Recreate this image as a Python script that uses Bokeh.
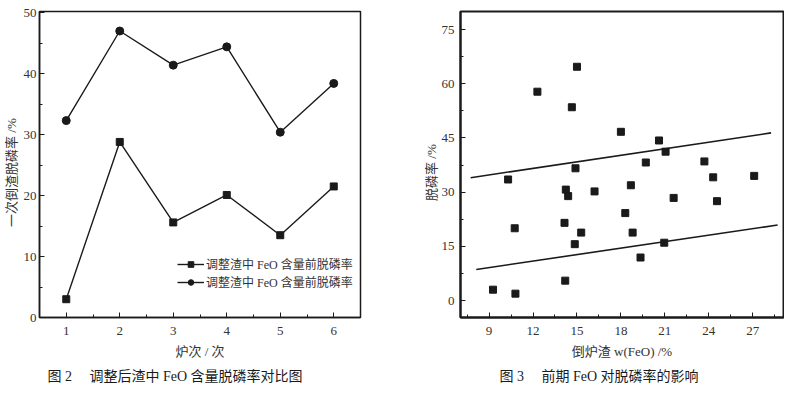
from bokeh.plotting import figure
from bokeh.models import (Range1d, FixedTicker, Legend, LegendItem, Title)
from bokeh.layouts import row
from bokeh.embed import file_html
from bokeh.resources import INLINE

# ---------------- data: Fig. 2 ----------------
heats = [1, 2, 3, 4, 5, 6]
before_adjust = [3.0, 28.8, 15.6, 20.1, 13.5, 21.5]   # squares
after_adjust = [32.3, 47.0, 41.4, 44.4, 30.4, 38.4]   # circles
legend_label = "调整渣中 FeO 含量前脱磷率"

# ---------------- data: Fig. 3 ----------------
feo = [10.3, 12.3, 15.0, 14.65, 18.0, 20.6, 21.05, 14.9, 19.7, 23.7, 24.3, 27.1,
       14.24, 14.4, 16.2, 18.68, 21.6, 24.56, 10.75, 14.15, 18.3, 15.29, 18.8,
       14.85, 20.96, 19.34, 14.2, 9.27, 10.8]
dephos = [33.5, 57.8, 64.7, 53.5, 46.7, 44.3, 41.2, 36.6, 38.2, 38.5, 34.1, 34.5,
          30.7, 28.9, 30.2, 31.9, 28.4, 27.5, 20.0, 21.5, 24.2, 18.8, 18.8,
          15.6, 16.0, 11.9, 5.5, 3.0, 1.9]
upper_line_x = [7.74, 28.25]
upper_line_y = [34.0, 46.4]
lower_line_x = [8.13, 28.7]
lower_line_y = [8.6, 20.9]

TXT = "#333333"
INK = "#1a1a1a"
FONT = "Liberation Serif, Noto Sans CJK SC"
SP = "\u00a0"
EM = "\u2003"


def style_axis(ax, major, minor):
    ax.ticker = FixedTicker(ticks=major, minor_ticks=minor)
    ax.major_tick_in = 5
    ax.major_tick_out = 0
    ax.minor_tick_in = 3
    ax.minor_tick_out = 0
    ax.axis_line_color = INK
    ax.major_tick_line_color = INK
    ax.minor_tick_line_color = INK
    ax.major_label_text_font = FONT
    ax.major_label_text_font_size = "13px"
    ax.major_label_text_color = TXT
    ax.axis_label_text_font = FONT
    ax.axis_label_text_font_size = "13px"
    ax.axis_label_text_font_style = "normal"
    ax.axis_label_text_color = TXT


# ---------------- left figure ----------------
p1 = figure(width=392, height=388, output_backend="svg", toolbar_location=None,
            x_range=Range1d(0.5, 6.5), y_range=Range1d(0, 50.2),
            min_border_left=32, min_border_right=32, min_border_top=10,
            min_border_bottom=65)
p1.grid.visible = False
p1.outline_line_color = INK
p1.outline_line_width = 1.5
p1.background_fill_color = "white"
p1.border_fill_color = "white"

style_axis(p1.xaxis[0], heats, [x / 2 for x in range(1, 14)])
style_axis(p1.yaxis[0], [0, 10, 20, 30, 40, 50], list(range(0, 51, 5)))
p1.xaxis[0].axis_label = "炉次 / 次"
p1.yaxis[0].axis_label = "一次倒渣脱磷率 /%" + EM + SP
p1.xaxis[0].major_label_standoff = 9
p1.xaxis[0].axis_label_standoff = 6
p1.yaxis[0].major_label_standoff = 3
p1.yaxis[0].axis_label_standoff = 2
p1.axis.axis_line_width = 1.5

l_sq = p1.line(heats, before_adjust, line_color=INK, line_width=1.4)
s_sq = p1.scatter(heats, before_adjust, marker="square", size=7, color=INK)
l_ci = p1.line(heats, after_adjust, line_color=INK, line_width=1.4)
s_ci = p1.scatter(heats, after_adjust, marker="circle", size=8, color=INK)

leg = Legend(items=[LegendItem(label=legend_label, renderers=[l_sq, s_sq]),
                    LegendItem(label=legend_label, renderers=[l_ci, s_ci])],
             location=(138, 26), glyph_width=27, glyph_height=14,
             label_height=14, label_standoff=2, spacing=0, padding=0, margin=0,
             border_line_color=None, background_fill_alpha=0,
             label_text_font=FONT, label_text_font_size="12px",
             label_text_color=TXT)
p1.add_layout(leg, "center")

cap1 = Title(text="图" + SP + "2" + EM + SP + "调整后渣中 FeO 含量脱磷率对比图",
             align="left", offset=8,
             text_font=FONT, text_font_size="14px", text_font_style="normal",
             text_color=INK, standoff=10)
p1.add_layout(cap1, "below")

# ---------------- right figure ----------------
p2 = figure(width=392, height=388, output_backend="svg", toolbar_location=None,
            x_range=Range1d(7.05, 29.1), y_range=Range1d(-4.7, 80),
            min_border_left=68, min_border_right=1, min_border_top=11,
            min_border_bottom=67)
p2.grid.visible = False
p2.outline_line_color = INK
p2.outline_line_width = 2
p2.background_fill_color = "white"
p2.border_fill_color = "white"

style_axis(p2.xaxis[0], [9, 12, 15, 18, 21, 24, 27], [7.5 + 1.5 * i for i in range(15)])
style_axis(p2.yaxis[0], [0, 15, 30, 45, 60, 75], [7.5 * i for i in range(11)])
p2.axis.axis_line_width = 2
p2.xaxis[0].axis_label = "倒炉渣 w(FeO) /%"
p2.yaxis[0].axis_label = "脱磷率 /%" + EM + SP
p2.xaxis[0].major_label_standoff = 9
p2.xaxis[0].axis_label_standoff = 6
p2.yaxis[0].major_label_standoff = 6
p2.yaxis[0].axis_label_standoff = 0

p2.line(upper_line_x, upper_line_y, line_color=INK, line_width=1.6)
p2.line(lower_line_x, lower_line_y, line_color=INK, line_width=1.6)
p2.scatter(feo, dephos, marker="square", size=7, color=INK)

cap2 = Title(text="图" + SP + "3" + EM + SP + "前期 FeO 对脱磷率的影响",
             align="left", offset=39,
             text_font=FONT, text_font_size="14px", text_font_style="normal",
             text_color=INK, standoff=10)
p2.add_layout(cap2, "below")

layout = row(p1, p2)
open("out.html", "w").write(file_html(layout, INLINE))
